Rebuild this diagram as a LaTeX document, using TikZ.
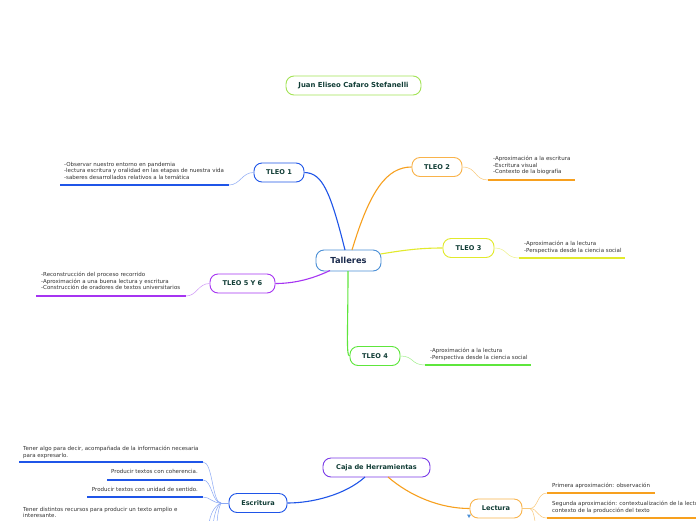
\documentclass[tikz,border=0pt]{standalone}
\usepackage{fontspec}
\setmainfont{DejaVu Sans}
\definecolor{ttl}{HTML}{A3E355}
\definecolor{tal}{HTML}{4A8FD6}
\definecolor{cblue}{HTML}{1F55E8}
\definecolor{lblue}{HTML}{8AA8F5}
\definecolor{corange}{HTML}{F7A01E}
\definecolor{lorange}{HTML}{F9C878}
\definecolor{cyellow}{HTML}{E2EA2C}
\definecolor{lyellow}{HTML}{EEF28A}
\definecolor{cgreen}{HTML}{5EE63C}
\definecolor{lgreen}{HTML}{A3F08E}
\definecolor{cpurple}{HTML}{A634F2}
\definecolor{lpurple}{HTML}{CF97F7}
\definecolor{cviolet}{HTML}{7A3BE8}
\definecolor{ntext}{HTML}{113D36}
\definecolor{ttext}{HTML}{1B2B4D}
\definecolor{ltext}{HTML}{333333}
\begin{document}
\begin{tikzpicture}[x=1pt,y=-1pt,
  box/.style={draw, rounded corners=8pt, fill=white, line width=0.9pt,
    font=\fontsize{6.6}{7}\selectfont\bfseries, text=ntext, inner sep=0pt,
    minimum height=19pt},
  leaf/.style={font=\fontsize{5.5}{6.4}\selectfont, text=ltext, align=left, inner sep=0pt},
  link/.style={line width=1.1pt},
  sub/.style={line width=0.5pt},
  uline/.style={line width=1.2pt}]
\clip (0,0) rectangle (696,520);
\fill[white] (0,0) rectangle (696,520);

% nodes
\node[box, draw=ttl, minimum width=135pt, font=\fontsize{6.9}{7}\selectfont\bfseries] (title) at (353.5,85.5) {Juan Eliseo Cafaro Stefanelli};
\node[box, draw=tal, minimum width=65pt, minimum height=21pt, font=\fontsize{8.3}{9}\selectfont\bfseries, text=ttext] (tal) at (348.5,260.5) {Talleres};
\node[box, draw=cblue, minimum width=50pt] (t1) at (279,172.5) {TLEO 1};
\node[box, draw=corange!80, minimum width=50pt] (t2) at (437,167) {TLEO 2};
\node[box, draw=cyellow, minimum width=51pt] (t3) at (468.5,248) {TLEO 3};
\node[box, draw=cgreen, minimum width=50pt] (t4) at (375,356) {TLEO 4};
\node[box, draw=cpurple, minimum width=65pt] (t56) at (242.5,283.5) {TLEO 5 Y 6};
\node[box, draw=cviolet, minimum width=107pt] (caja) at (376.5,467.5) {Caja de Herramientas};
\node[box, draw=cblue, minimum width=58pt] (esc) at (258,503) {Escritura};
\node[box, draw=corange!80, minimum width=52pt] (lec) at (496,508.5) {Lectura};

% main connectors
\coordinate (talA) at (345,250);
\coordinate (talB) at (352,250);
\coordinate (talC) at (380.5,254);
\coordinate (talD) at (348,271);
\coordinate (talE) at (330,270.5);
\draw[link, cblue] (talA) .. controls (330,190) and (322,173) .. (t1.east);
\draw[link, corange] (talB) .. controls (370,190) and (387,167) .. (t2.west);
\draw[link, cyellow] (talC) .. controls (405,250) and (420,248) .. (t3.west);
\draw[link, cgreen] (talD) .. controls (348,330) and (346,356) .. (t4.west);
\draw[link, cpurple] (talE) .. controls (310,280) and (292,283.5) .. (t56.east);
\coordinate (cajA) at (365,477);
\coordinate (cajB) at (388,477);
\draw[link, cblue] (cajA) .. controls (345,495) and (312,503) .. (esc.east);
\draw[link, corange] (cajB) .. controls (410,496) and (440,508.5) .. (lec.west);

% TLEO 1 leaf
\node[leaf, anchor=north west] (x1) at (64,162) {-Observar nuestro entorno en pandemia\\-lectura escritura y oralidad en las etapas de nuestra vida\\-saberes desarrollados relativos a la temática};
\coordinate (u1a) at (60,185); \coordinate (u1b) at (229,185);
\draw[uline, cblue] (u1a) -- (u1b);
\draw[sub, lblue] (t1.west) .. controls (242,172.5) and (240,185) .. (u1b);

% TLEO 2 leaf
\node[leaf, anchor=north west] (x2) at (493,156) {-Aproximación a la escritura\\-Escritura visual\\-Contexto de la biografía};
\coordinate (u2a) at (488,180); \coordinate (u2b) at (575,180);
\draw[uline, corange] (u2a) -- (u2b);
\draw[sub, lorange] (t2.east) .. controls (477,167) and (474,180) .. (u2a);

% TLEO 3 leaf
\node[leaf, anchor=north west] (x3) at (524,241) {-Aproximación a la lectura\\-Perspectiva desde la ciencia social};
\coordinate (u3a) at (519,258); \coordinate (u3b) at (625,258);
\draw[uline, cyellow] (u3a) -- (u3b);
\draw[sub, lyellow] (t3.east) .. controls (508,248) and (505,258) .. (u3a);

% TLEO 4 leaf
\node[leaf, anchor=north west] (x4) at (430,348) {-Aproximación a la lectura\\-Perspectiva desde la ciencia social};
\coordinate (u4a) at (425,365); \coordinate (u4b) at (531,365);
\draw[uline, cgreen] (u4a) -- (u4b);
\draw[sub, lgreen] (t4.east) .. controls (414,356) and (411,365) .. (u4a);

% TLEO 5 Y 6 leaf
\node[leaf, anchor=north west] (x56) at (41,272) {-Reconstrucción del proceso recorrido\\-Aproximación a una buena lectura y escritura\\-Construcción de oradores de textos universitarios};
\coordinate (u5a) at (36,296); \coordinate (u5b) at (186,296);
\draw[uline, cpurple] (u5a) -- (u5b);
\draw[sub, lpurple] (t56.west) .. controls (198,283.5) and (197,296) .. (u5b);

% Escritura leaves
\node[leaf, anchor=north west] (e1) at (23,446) {Tener algo para decir, acompañada de la información necesaria\\para expresarlo.};
\coordinate (e1a) at (19,462); \coordinate (e1b) at (203,462);
\draw[uline, cblue] (e1a) -- (e1b);
\node[leaf, anchor=north east] (e2) at (198,469) {Producir textos con coherencia.};
\coordinate (e2a) at (107,480); \coordinate (e2b) at (203,480);
\draw[uline, cblue] (e2a) -- (e2b);
\node[leaf, anchor=north east] (e3) at (198,487) {Producir textos con unidad de sentido.};
\coordinate (e3a) at (87,497); \coordinate (e3b) at (203,497);
\draw[uline, cblue] (e3a) -- (e3b);
\node[leaf, anchor=north west] (e4) at (23,507) {Tener distintos recursos para producir un texto amplio e\\interesante.};
\coordinate (e4b) at (209,524);
\coordinate (e5b) at (213,526);
\coordinate (e6b) at (217,526);
\coordinate (ej) at (221,503);
\draw[sub, lblue] (esc.west) -- (ej);
\draw[sub, lblue] (ej) .. controls (212,503) and (213,462) .. (e1b);
\draw[sub, lblue] (ej) .. controls (212,503) and (212,480) .. (e2b);
\draw[sub, lblue] (ej) .. controls (212,503) and (210,497) .. (e3b);
\draw[sub, lblue] (ej) .. controls (214,506) and (210,515) .. (e4b);
\draw[sub, lblue] (ej) .. controls (216,507) and (214,516) .. (e5b);
\draw[sub, lblue] (ej) .. controls (219,507) and (217,516) .. (e6b);

% Lectura leaves
\node[leaf, anchor=north west] (l1) at (552,483) {Primera aproximación: observación};
\coordinate (l1a) at (547,493); \coordinate (l1b) at (655,493);
\draw[uline, corange] (l1a) -- (l1b);
\node[leaf, anchor=north west] (l2) at (552,501) {Segunda aproximación: contextualización de la lectura y\\contexto de la producción del texto};
\coordinate (l2a) at (547,518); \coordinate (l2b) at (700,518);
\draw[uline, corange] (l2a) -- (l2b);
\coordinate (lj) at (530,508.5);
\coordinate (l3b) at (536,526);
\draw[sub, lorange] (lec.east) -- (lj);
\draw[sub, lorange] (lj) .. controls (538,508.5) and (537,493) .. (l1a);
\draw[sub, lorange] (lj) .. controls (538,508.5) and (537,518) .. (l2a);
\draw[sub, lorange] (lj) .. controls (534,510) and (534,518) .. (l3b);

% small marker
\coordinate (mk) at (469,516);
\fill[tal] (mk) ++(-2,-1.5) -- ++(4,0) -- ++(-2,3.5) -- cycle;
\end{tikzpicture}
\end{document}
